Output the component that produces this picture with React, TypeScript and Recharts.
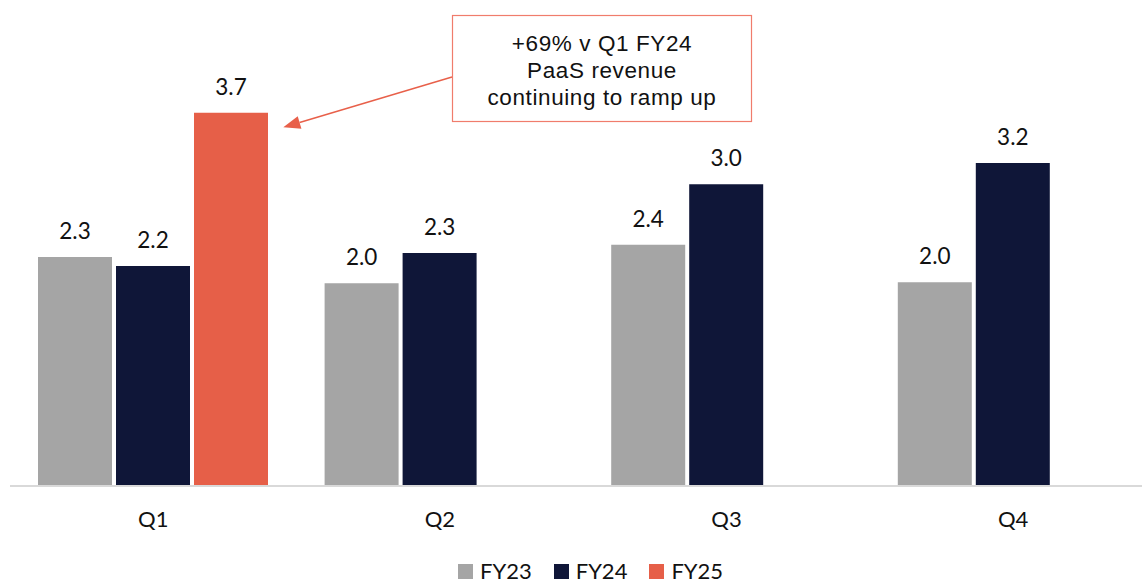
import React from 'react';
import { BarChart, Bar, XAxis, YAxis, Legend, LabelList, Customized } from 'recharts';

const categories = ['Q1', 'Q2', 'Q3', 'Q4'];
const fy23 = [2.27, 2.01, 2.39, 2.02];
const fy24 = [2.18, 2.31, 2.99, 3.2];
const fy25: (number | null)[] = [3.7, null, null, null];
const seriesNames = ['FY23', 'FY24', 'FY25'];
const seriesColors = ['#A5A5A5', '#0F1638', '#E65F48'];
const calloutLines = ['+69% v Q1 FY24', 'PaaS revenue', 'continuing to ramp up'];

const data = categories.map((c, i) => ({ name: c, FY23: fy23[i], FY24: fy24[i], FY25: fy25[i] }));

const FONT = 'Lato, "Open Sans", sans-serif';

const ValueLabel = (props: any) => {
  const { x, y, width, value } = props;
  if (value === null || value === undefined) return null;
  return (
    <text x={Number(x) + Number(width) / 2} y={Number(y) - 18} textAnchor="middle" fontSize={22.5} fontFamily={FONT} fill="#111">
      {Number(value).toFixed(1)}
    </text>
  );
};

const Callout = () => {
  const tip = { x: 283.3, y: 127.3 };
  const start = { x: 452, y: 77 };
  const dx = tip.x - start.x;
  const dy = tip.y - start.y;
  const len = Math.sqrt(dx * dx + dy * dy);
  const ux = dx / len;
  const uy = dy / len;
  const headLen = 17;
  const headHalf = 6.5;
  const bx = tip.x - ux * headLen;
  const by = tip.y - uy * headLen;
  const px = -uy * headHalf;
  const py = ux * headHalf;
  return (
    <g>
      <line x1={start.x} y1={start.y} x2={bx} y2={by} stroke="#E8604A" strokeWidth={1.5} />
      <polygon points={`${tip.x},${tip.y} ${bx + px},${by + py} ${bx - px},${by - py}`} fill="#E8604A" />
      <rect x={452.5} y={15.5} width={299} height={106} fill="#fff" stroke="#F07C6C" strokeWidth={1.2} />
      {calloutLines.map((t, i) => (
        <text key={i} x={602} y={51 + i * 27} textAnchor="middle" fontSize={22.5} letterSpacing={0.6}
          fontFamily='"Liberation Sans", Arial, sans-serif' fill="#111">
          {t}
        </text>
      ))}
    </g>
  );
};

const LegendContent = () => (
  <div style={{ display: 'flex', justifyContent: 'flex-start', alignItems: 'center', height: 24, paddingLeft: 458, fontFamily: FONT, fontSize: 22, color: '#111' }}>
    {seriesNames.map((n, i) => (
      <div key={n} style={{ display: 'flex', alignItems: 'center', marginRight: i < seriesNames.length - 1 ? 22 : 0 }}>
        <span style={{ display: 'inline-block', width: 15, height: 15, background: seriesColors[i], marginRight: 7 }} />
        <span style={{ lineHeight: '24px' }}>{n}</span>
      </div>
    ))}
  </div>
);

export default function App() {
  return (
    <div style={{ position: 'fixed', left: 0, top: 0, width: 1142, height: 585, overflow: 'hidden', background: '#fff' }}>
      <BarChart
        width={1160}
        height={610}
        data={data}
        margin={{ top: 82.4, right: 3.6, left: 10, bottom: 74 }}
        barGap={4}
        barSize={74}
      >
        <XAxis
          dataKey="name"
          axisLine={{ stroke: '#D9D9D9', strokeWidth: 2 }}
          tickLine={false}
          tickSize={0}
          tickMargin={25}
          height={50}
          tick={{ fontSize: 22, fontFamily: FONT, fill: '#111' }}
        />
        <YAxis hide domain={[0, 4]} />
        {seriesNames.map((n, i) => (
          <Bar key={n} dataKey={n} fill={seriesColors[i]} isAnimationActive={false}>
            <LabelList dataKey={n} content={<ValueLabel />} />
          </Bar>
        ))}
        <Legend
          layout="horizontal"
          verticalAlign="middle"
          align="center"
          content={<LegendContent />}
          wrapperStyle={{ top: 559, left: 0, width: 1142 }}
        />
        <Customized component={<Callout />} />
      </BarChart>
    </div>
  );
}
